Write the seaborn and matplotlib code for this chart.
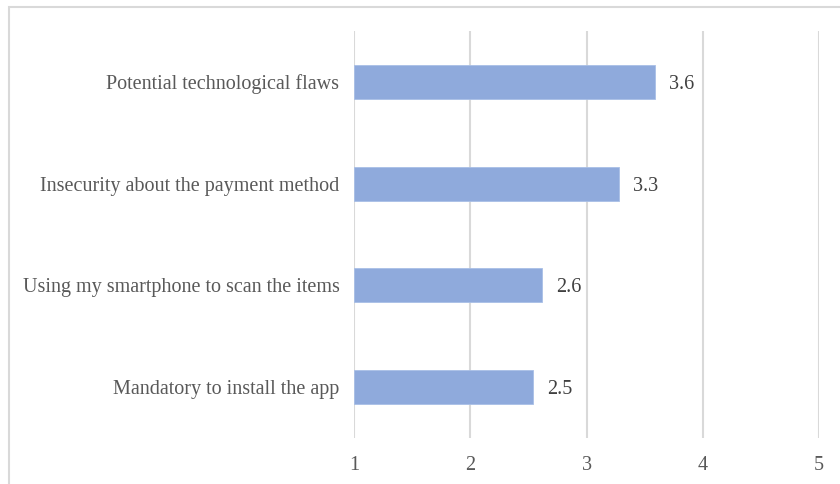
import matplotlib
matplotlib.use("Agg")
import matplotlib.pyplot as plt
import seaborn as sns
import pandas as pd
from matplotlib.patches import Rectangle

categories = [
    "Potential technological flaws",
    "Insecurity about the payment method",
    "Using my smartphone to scan the items",
    "Mandatory to install the app",
]
scores = [3.59, 3.28, 2.62, 2.54]
x_ticks = [1, 2, 3, 4, 5]

sns.set_theme(style="white")
plt.rcParams["font.family"] = ["Liberation Serif", "DejaVu Serif"]

df = pd.DataFrame({"category": categories, "score": scores})

fig = plt.figure(figsize=(8.4, 4.84), dpi=100)
ax = fig.add_axes([354 / 840, 1 - 438 / 484, (819 - 354) / 840, (438 - 31) / 484])

# light frame around the chart area
fig.add_artist(Rectangle((8.5 / 840, -0.1), 1.2, 1.1 - 6.5 / 484,
                         transform=fig.transFigure, fill=False,
                         edgecolor="#d9d9d9", linewidth=1.5))

sns.barplot(data=df, x="score", y="category", orient="h", ax=ax,
            color="#8faadc", width=0.335, saturation=1, edgecolor="#a9bfe6",
            linewidth=0.6)

# bars start at the axis minimum of 1
for patch in ax.patches:
    w = patch.get_width()
    patch.set_x(1)
    patch.set_width(w - 1)

ax.set_xlim(1, 5)
ax.set_ylim(3.5, -0.5)
ax.set_xticks(x_ticks)
ax.set_xticklabels([str(t) for t in x_ticks])
ax.xaxis.grid(True, color="#d9d9d9", linewidth=1.5)
ax.set_axisbelow(True)
for s in ax.spines.values():
    s.set_visible(False)
ax.tick_params(axis="both", length=0, labelsize=14.5, labelcolor="#595959")
ax.tick_params(axis="x", pad=13)
ax.tick_params(axis="y", pad=10.5)
ax.set_xlabel("")
ax.set_ylabel("")

for i, v in enumerate(scores):
    ax.annotate(f"{v:.1f}", (v, i), xytext=(10, 0), textcoords="offset points",
                ha="left", va="center_baseline", fontsize=14.5, color="#404040")

fig.savefig("out.png", dpi=100)
